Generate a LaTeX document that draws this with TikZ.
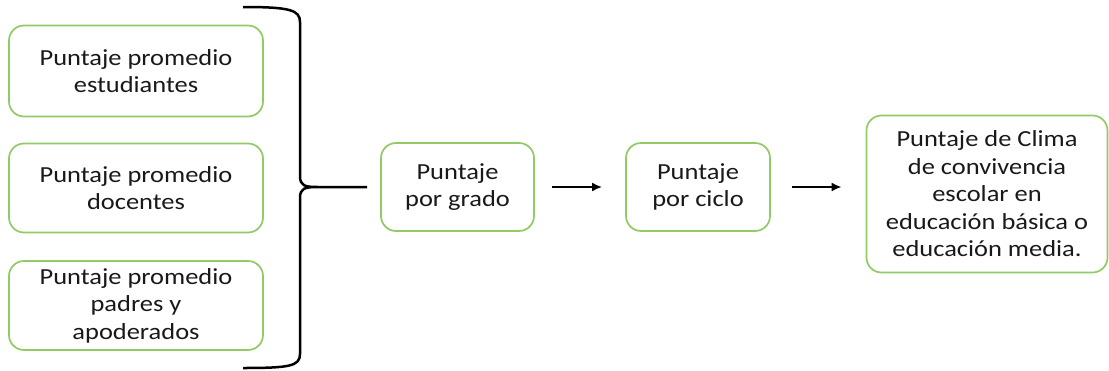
\documentclass[tikz,border=0pt]{standalone}
\usepackage{fontspec}
\usetikzlibrary{arrows.meta}
\setmainfont{Carlito}[FakeStretch=1.15]
\begin{document}
\begin{tikzpicture}[x=1pt,y=-1pt,
  box/.style={draw=boxgreen,line width=1.7pt,rounded corners=15pt,align=center,
    font=\fontsize{23}{27.5}\selectfont,text=black!90,inner sep=0pt},
  conn/.style={line width=2.8pt,-{Latex[length=10pt,width=9pt]}},
  bracepath/.style={line width=2.5pt}]
\definecolor{boxgreen}{RGB}{146,202,102}
\useasboundingbox (0,0) rectangle (1109,370);
\node[box,minimum width=254pt,minimum height=91pt] (b1) at (136,71) {Puntaje promedio\\estudiantes};
\node[box,minimum width=254pt,minimum height=89pt] (b2) at (136,188) {Puntaje promedio\\docentes};
\node[box,minimum width=254pt,minimum height=89pt] (b3) at (136,305.5) {Puntaje promedio\\padres y\\apoderados};
\node[box,minimum width=153pt,minimum height=88pt] (g) at (457.5,187) {Puntaje\\por grado};
\node[box,minimum width=144pt,minimum height=88pt] (c) at (698,187) {Puntaje\\por ciclo};
\node[box,minimum width=241pt,minimum height=157pt] (f) at (987,194) {Puntaje de Clima\\de convivencia\\escolar en\\educación básica o\\educación media.};
\coordinate (btop) at (243,7);
\coordinate (bbot) at (243,368);
\coordinate (btip) at (367,187);
\draw[bracepath] (btop) .. controls (290,7) and (300,10) .. (300,22)
  -- (300,176) .. controls (300,186) and (305,187) .. (318,187) -- (btip)
  (318,187) .. controls (305,187) and (300,188) .. (300,198)
  -- (300,354) .. controls (300,366) and (290,368) .. (bbot);
\draw[conn,shorten <=17pt,shorten >=23pt] (g.east) -- (c.west);
\draw[conn,shorten <=21pt,shorten >=24pt] (c.east) -- (f.west |- c.east);
\end{tikzpicture}
\end{document}
